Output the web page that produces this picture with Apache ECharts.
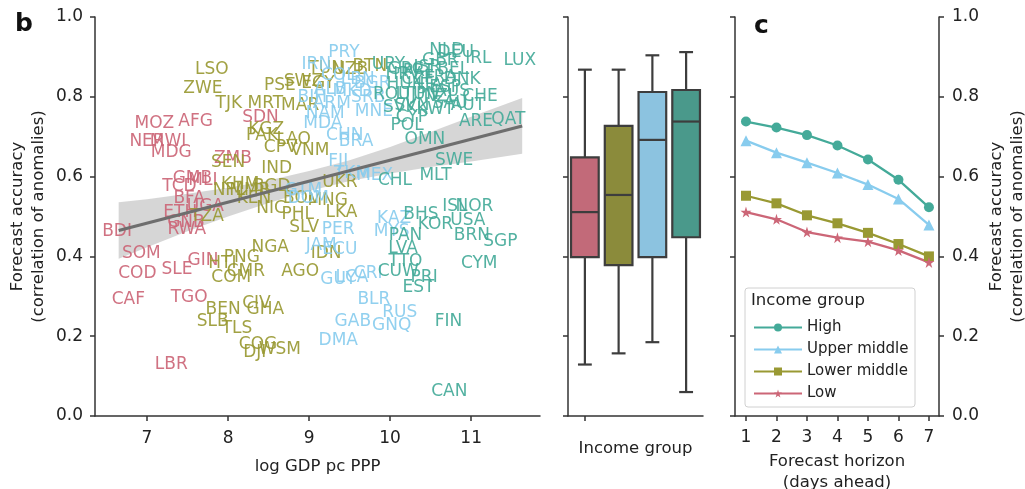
<!DOCTYPE html>
<html><head><meta charset="utf-8">
<script src="https://cdn.jsdelivr.net/npm/echarts@6/dist/echarts.min.js"></script>
<style>html,body{margin:0;padding:0;background:#fff}#c{width:1025px;height:489px}</style>
</head><body><div id="c"></div><script>
// ---------- Panel b: country labels (log GDP pc PPP, forecast accuracy) ----------
const lowNames = ['MOZ','AFG','NER','MWI','MDG','SDN','ZMB','TCD','GMB','MLI','BFA','UGA','ETH','GNB','RWA','BDI','SOM','COD','SLE','GIN','CAF','TGO','LBR'];
const lowX     = [7.09,7.60,7.00,7.26,7.30,8.40,8.06,7.40,7.56,7.69,7.52,7.72,7.41,7.48,7.49,6.63,6.93,6.88,7.37,7.69,6.77,7.52,7.30];
const lowY     = [0.734,0.739,0.689,0.687,0.659,0.747,0.644,0.576,0.596,0.591,0.546,0.524,0.511,0.486,0.466,0.461,0.406,0.358,0.368,0.389,0.291,0.296,0.128];

const lmNames = ['LSO','ZWE','TJK','MRT','MAR','PSE','SWZ','EGY','TUN','UZB','BTN','KGZ','PAK','LAO','CPV','VNM','SEN','IND','KHM','NPL','MMR','BGD','KEN','TZA','NIC','BOL','MNG','UKR','PHL','LKA','SLV','NGA','IDN','AGO','PNG','HTI','CMR','COM','CIV','GHA','BEN','SLB','TLS','COG','DJI','WSM'];
const lmX     = [7.80,7.69,8.01,8.46,8.89,8.64,8.93,9.11,9.21,9.51,9.75,8.47,8.42,8.81,8.65,9.01,8.00,8.60,8.15,8.01,8.27,8.54,8.32,7.74,8.53,8.89,9.23,9.38,8.86,9.40,8.94,8.52,9.21,8.89,8.17,7.93,8.22,8.04,8.35,8.46,7.94,7.81,8.11,8.37,8.33,8.64];
const lmY     = [0.867,0.820,0.784,0.784,0.779,0.827,0.837,0.832,0.870,0.867,0.875,0.719,0.704,0.692,0.672,0.664,0.634,0.619,0.579,0.566,0.566,0.576,0.546,0.499,0.519,0.546,0.541,0.586,0.504,0.511,0.471,0.421,0.406,0.361,0.396,0.383,0.363,0.346,0.281,0.266,0.266,0.236,0.218,0.180,0.160,0.166];

const umNames = ['PRY','IRN','COL','LBN','BGR','ALB','MKD','BIH','SRB','ARM','NAM','MNE','MDA','CHN','BRA','FJI','TKM','MEX','GTM','DOM','PER','JAM','ECU','KAZ','MYS','GUY','LCA','CRI','BLR','RUS','GNQ','GAB','DMA'];
const umX     = [9.43,9.09,9.36,9.60,9.78,9.26,9.53,9.04,9.73,9.28,9.20,9.80,9.17,9.44,9.58,9.36,9.53,9.81,8.93,8.99,9.36,9.15,9.38,10.05,10.02,9.36,9.53,9.73,9.80,10.12,10.02,9.54,9.36];
const umY     = [0.910,0.882,0.852,0.842,0.832,0.817,0.812,0.799,0.797,0.782,0.759,0.764,0.732,0.704,0.689,0.637,0.607,0.602,0.566,0.546,0.466,0.428,0.416,0.494,0.461,0.343,0.346,0.358,0.291,0.258,0.226,0.236,0.190];

const hiNames = ['URY','LUX','IRL','NLD','DEU','GBR','ISR','BEL','DNK','FRA','ITA','ESP','JPN','NZL','AUS','CZE','HUN','HRV','LTU','ROU','SVK','SVN','GRC','PRT','CYP','KWT','SAU','AUT','CHE','ARE','QAT','OMN','POL','SWE','MLT','CHL','ISL','NOR','USA','BHS','KOR','BRN','SGP','PAN','LVA','TTO','CYM','CUW','PRI','EST','FIN','CAN'];
const hiX     = [9.98,11.60,11.09,10.70,10.81,10.62,10.46,10.78,10.89,10.62,10.49,10.68,10.43,10.62,10.77,10.35,10.19,10.16,10.25,10.02,10.12,10.27,10.19,10.35,10.27,10.56,10.74,10.96,11.11,11.06,11.46,10.43,10.21,10.79,10.56,10.06,10.80,11.04,10.96,10.38,10.56,11.01,11.36,10.19,10.16,10.19,11.10,10.10,10.42,10.35,10.72,10.73];
const hiY     = [0.882,0.890,0.895,0.917,0.912,0.892,0.872,0.867,0.842,0.847,0.827,0.822,0.805,0.800,0.812,0.842,0.830,0.855,0.805,0.805,0.772,0.779,0.867,0.862,0.749,0.767,0.782,0.777,0.800,0.737,0.742,0.692,0.729,0.639,0.602,0.589,0.524,0.524,0.491,0.504,0.481,0.451,0.436,0.451,0.419,0.386,0.383,0.361,0.346,0.323,0.236,0.060];

// regression line and confidence band
const regX = [6.65, 11.63];
const regY = [0.465, 0.727];
const bandX    = [6.65, 7.0, 7.5, 8.0, 8.5, 9.0, 9.5, 10.0, 10.5, 11.0, 11.63];
const bandLow  = [0.394,0.423,0.463,0.500,0.534,0.564,0.589,0.608,0.624,0.638,0.657];
const bandHigh = [0.536,0.543,0.557,0.572,0.590,0.614,0.641,0.674,0.712,0.750,0.797];
const bTicks = [7, 8, 9, 10, 11];

// ---------- Box plot by income group ----------
const boxGroups = ['Low', 'Lower middle', 'Upper middle', 'High'];
const boxMin = [0.129, 0.157, 0.185, 0.060];
const boxQ1  = [0.398, 0.378, 0.398, 0.448];
const boxMed = [0.511, 0.554, 0.692, 0.738];
const boxQ3  = [0.648, 0.727, 0.812, 0.817];
const boxMax = [0.868, 0.868, 0.904, 0.912];

// ---------- Panel c: accuracy by forecast horizon ----------
const days = [1, 2, 3, 4, 5, 6, 7];
const highAcc  = [0.738, 0.723, 0.704, 0.678, 0.643, 0.592, 0.523];
const upperAcc = [0.690, 0.660, 0.635, 0.609, 0.580, 0.544, 0.479];
const lowerAcc = [0.552, 0.533, 0.503, 0.483, 0.459, 0.431, 0.400];
const lowAcc   = [0.511, 0.493, 0.461, 0.447, 0.437, 0.415, 0.385];

// ---------- styling ----------
const FONT = 'DejaVu Sans';
const C_LOW = '#CC6677', C_LM = '#999933', C_UM = '#88CCEE', C_HI = '#44AA99';
const BOX_FILL = ['#c26a79', '#8b8b3b', '#8cc3e0', '#4a998b'];
const AX = '#333';
const STAR = 'path://M50,0 L61,35 L98,35 L68,57 L79,91 L50,70 L21,91 L32,57 L2,35 L39,35 Z';

const axLine = { show: true, lineStyle: { color: AX, width: 1.5 } };
const axTick = { show: true, length: 5, lineStyle: { color: AX, width: 1.5 } };
const axLab = { color: '#222', fontSize: 17, fontFamily: FONT };
const nameStyle = { color: '#222', fontSize: 16.5, fontFamily: FONT, lineHeight: 21 };

function labelSeries(names, xs, ys, color) {
  return {
    type: 'scatter', xAxisIndex: 0, yAxisIndex: 0, z: 3,
    symbolSize: 1, itemStyle: { color: 'transparent' },
    data: names.map((n, i) => ({ name: n, value: [xs[i], ys[i]] })),
    label: { show: true, position: 'inside', formatter: '{b}', color: color, opacity: 0.92,
             fontSize: 17, fontFamily: FONT },
    emphasis: { disabled: true }, silent: true
  };
}

const gridBase = { outerBoundsMode: 'none', containLabel: false };
const chart = echarts.init(document.getElementById('c'), null, { renderer: 'canvas' });
chart.setOption({
  animation: false,
  backgroundColor: '#fff',
  textStyle: { fontFamily: FONT },
  grid: [
    Object.assign({ left: 95, top: 17, width: 445, height: 399 }, gridBase),
    Object.assign({ left: 568, top: 17, width: 135, height: 399 }, gridBase),
    Object.assign({ left: 735, top: 17, width: 204, height: 399 }, gridBase)
  ],
  graphic: [
    { type: 'text', left: 15, top: 12, style: { text: 'b', font: 'bold 25px "DejaVu Sans"', fill: '#111' } },
    { type: 'text', left: 754, top: 14, style: { text: 'c', font: 'bold 25px "DejaVu Sans"', fill: '#111' } },
    { type: 'rect', shape: { x: 745, y: 288, width: 170, height: 119, r: 3 },
      style: { fill: 'rgba(255,255,255,0.85)', stroke: '#d0d0d0', lineWidth: 1 }, z: 20 },
    { type: 'text', left: 751, top: 292, z: 21, style: { text: 'Income group', font: '16.5px "DejaVu Sans"', fill: '#222' } }
  ],
  legend: {
    data: ['High', 'Upper middle', 'Lower middle', 'Low'],
    orient: 'vertical', left: 748, top: 315, itemWidth: 48, itemHeight: 10, itemGap: 7, z: 22,
    textStyle: { fontSize: 15, fontFamily: FONT, color: '#222' }
  },
  xAxis: [
    { gridIndex: 0, type: 'value', min: 6.358, max: 11.85,
      name: 'log GDP pc PPP', nameLocation: 'middle', nameGap: 40, nameTextStyle: nameStyle,
      axisLine: axLine, axisTick: Object.assign({}, axTick, { customValues: bTicks }),
      axisLabel: Object.assign({}, axLab, { margin: 14, customValues: bTicks }), splitLine: { show: false } },
    { gridIndex: 1, type: 'category', data: boxGroups,
      name: 'Income group', nameLocation: 'middle', nameGap: 22, nameTextStyle: nameStyle,
      axisLine: axLine, axisTick: Object.assign({}, axTick, { alignWithLabel: true }),
      axisLabel: { show: false }, splitLine: { show: false } },
    { gridIndex: 2, type: 'value', min: 0.64, max: 7.33,
      name: 'Forecast horizon\n(days ahead)', nameLocation: 'middle', nameGap: 35, nameTextStyle: nameStyle,
      axisLine: axLine, axisTick: Object.assign({}, axTick, { customValues: days }),
      axisLabel: Object.assign({}, axLab, { margin: 13, customValues: days }), splitLine: { show: false } }
  ],
  yAxis: [
    { gridIndex: 0, type: 'value', min: 0, max: 1, interval: 0.2,
      name: 'Forecast accuracy\n(correlation of anomalies)', nameLocation: 'middle', nameGap: 46,
      nameRotate: 90, nameTextStyle: nameStyle,
      axisLine: axLine, axisTick: axTick,
      axisLabel: Object.assign({}, axLab, { margin: 12, formatter: v => v.toFixed(1) }), splitLine: { show: false } },
    { gridIndex: 1, type: 'value', min: 0, max: 1, interval: 0.2,
      axisLine: axLine, axisTick: axTick, axisLabel: { show: false }, splitLine: { show: false } },
    { gridIndex: 2, type: 'value', min: 0, max: 1, interval: 0.2, position: 'left',
      axisLine: axLine, axisTick: axTick, axisLabel: { show: false }, splitLine: { show: false } },
    { gridIndex: 2, type: 'value', min: 0, max: 1, interval: 0.2, position: 'right',
      name: 'Forecast accuracy\n(correlation of anomalies)', nameLocation: 'middle', nameGap: 47,
      nameRotate: 90, nameTextStyle: nameStyle,
      axisLine: axLine, axisTick: axTick,
      axisLabel: Object.assign({}, axLab, { margin: 13, formatter: v => v.toFixed(1) }), splitLine: { show: false } }
  ],
  series: [
    { type: 'custom', xAxisIndex: 0, yAxisIndex: 0, z: 1, silent: true,
      data: bandX.map((x, i) => [x, bandLow[i], bandHigh[i]]),
      encode: { x: 0, y: [1, 2] },
      renderItem: function (params, api) {
        if (params.dataIndex !== 0) return null;
        const up = [], lo = [];
        for (let i = 0; i < bandX.length; i++) {
          up.push(api.coord([bandX[i], bandHigh[i]]));
          lo.unshift(api.coord([bandX[i], bandLow[i]]));
        }
        return { type: 'polygon', shape: { points: up.concat(lo) }, style: { fill: '#cfcfcf', opacity: 0.85 } };
      }
    },
    labelSeries(lowNames, lowX, lowY, C_LOW),
    labelSeries(lmNames, lmX, lmY, C_LM),
    labelSeries(umNames, umX, umY, C_UM),
    labelSeries(hiNames, hiX, hiY, C_HI),
    { type: 'line', xAxisIndex: 0, yAxisIndex: 0, z: 4, silent: true, symbol: 'none',
      data: regX.map((x, i) => [x, regY[i]]), lineStyle: { color: '#6e6e6e', width: 3.2 } },
    { type: 'custom', xAxisIndex: 1, yAxisIndex: 1, silent: true,
      data: boxGroups.map((g, i) => [i, boxMin[i], boxQ1[i], boxMed[i], boxQ3[i], boxMax[i]]),
      encode: { x: 0, y: [1, 2, 3, 4, 5] },
      renderItem: function (params, api) {
        const i = api.value(0);
        const cx = api.coord([i, api.value(3)])[0];
        const w = api.size([1, 0])[0] * 0.82;
        const x0 = cx - w / 2;
        const yMin = api.coord([i, api.value(1)])[1];
        const yQ1 = api.coord([i, api.value(2)])[1];
        const yMed = api.coord([i, api.value(3)])[1];
        const yQ3 = api.coord([i, api.value(4)])[1];
        const yMax = api.coord([i, api.value(5)])[1];
        const ls = { stroke: '#3d3d3d', lineWidth: 2.2 };
        return { type: 'group', children: [
          { type: 'line', shape: { x1: cx, y1: yQ3, x2: cx, y2: yMax }, style: ls },
          { type: 'line', shape: { x1: cx, y1: yQ1, x2: cx, y2: yMin }, style: ls },
          { type: 'line', shape: { x1: cx - w / 4, y1: yMax, x2: cx + w / 4, y2: yMax }, style: ls },
          { type: 'line', shape: { x1: cx - w / 4, y1: yMin, x2: cx + w / 4, y2: yMin }, style: ls },
          { type: 'rect', shape: { x: x0, y: yQ3, width: w, height: yQ1 - yQ3 },
            style: { fill: BOX_FILL[i], stroke: '#3d3d3d', lineWidth: 2.2 } },
          { type: 'line', shape: { x1: x0, y1: yMed, x2: x0 + w, y2: yMed }, style: ls }
        ] };
      }
    },
    { name: 'High', type: 'line', xAxisIndex: 2, yAxisIndex: 2, symbol: 'circle', symbolSize: 10,
      data: days.map((d, i) => [d, highAcc[i]]), lineStyle: { color: C_HI, width: 2.3 }, itemStyle: { color: C_HI } },
    { name: 'Upper middle', type: 'line', xAxisIndex: 2, yAxisIndex: 2, symbol: 'triangle', symbolSize: 11,
      data: days.map((d, i) => [d, upperAcc[i]]), lineStyle: { color: C_UM, width: 2.3 }, itemStyle: { color: C_UM } },
    { name: 'Lower middle', type: 'line', xAxisIndex: 2, yAxisIndex: 2, symbol: 'rect', symbolSize: 10,
      data: days.map((d, i) => [d, lowerAcc[i]]), lineStyle: { color: C_LM, width: 2.3 }, itemStyle: { color: C_LM } },
    { name: 'Low', type: 'line', xAxisIndex: 2, yAxisIndex: 2, symbol: STAR, symbolSize: 11,
      data: days.map((d, i) => [d, lowAcc[i]]), lineStyle: { color: C_LOW, width: 2.3 }, itemStyle: { color: C_LOW } }
  ]
});
</script></body></html>
